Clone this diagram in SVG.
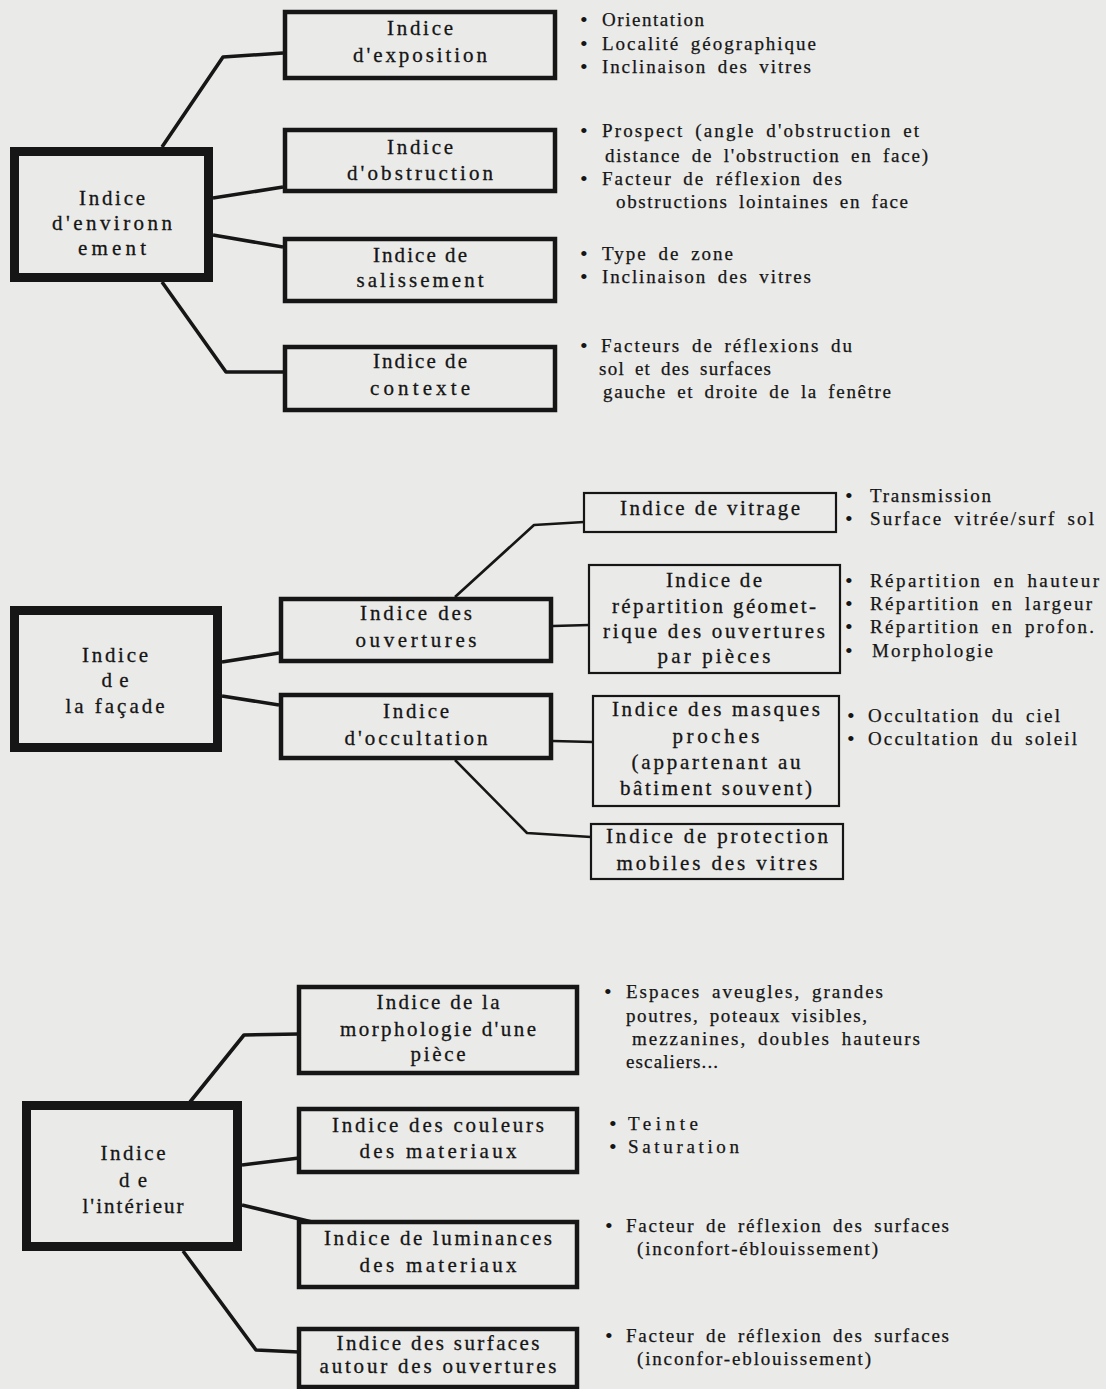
<svg xmlns="http://www.w3.org/2000/svg" width="1106" height="1389" viewBox="0 0 1106 1389">
<style>
.bg{fill:#eaeae8}
.b1{fill:none;stroke:#161616;stroke-width:9}
.b2{fill:none;stroke:#161616;stroke-width:4.5}
.b3{fill:none;stroke:#161616;stroke-width:2.2}
.c1{fill:none;stroke:#161616;stroke-width:3.6;stroke-linejoin:round}
.c2{fill:none;stroke:#161616;stroke-width:2.6;stroke-linejoin:round}
.t{font-family:"Liberation Serif","Times New Roman",serif;font-size:21px;fill:#151515;stroke:#151515;stroke-width:0.3;text-anchor:middle}
.l{font-family:"Liberation Serif","Times New Roman",serif;font-size:19px;fill:#151515;stroke:#151515;stroke-width:0.25;word-spacing:4px}
.d{font-family:"Liberation Serif","Times New Roman",serif;font-size:22px;fill:#151515}
</style>
<rect class="bg" x="0" y="0" width="1106" height="1389"/>

<g id="connectors">
<path class="c1" d="M162,147 L223,57 L283,53"/>
<path class="c1" d="M213,198 L283,187"/>
<path class="c1" d="M213,235 L283,247"/>
<path class="c1" d="M162,282 L226,372 L283,372"/>
<path class="c1" d="M222,662 L279,653"/>
<path class="c1" d="M222,696 L279,705"/>
<path class="c2" d="M455,597 L534,525 L584,522"/>
<path class="c2" d="M553,626 L589,625"/>
<path class="c2" d="M553,741 L593,742"/>
<path class="c2" d="M455,760 L527,833 L591,837"/>
<path class="c1" d="M190,1102 L244,1035 L299,1034"/>
<path class="c1" d="M242,1165 L299,1158"/>
<path class="c1" d="M242,1205 L312,1222"/>
<path class="c1" d="M183,1251 L256,1350 L299,1352"/>
</g>

<g id="env">
<rect class="b1" x="14.5" y="151.5" width="194" height="126"/>
<text class="t" x="112" y="205" textLength="66">Indice</text>
<text class="t" x="112" y="230" textLength="120">d'environn</text>
<text class="t" x="112" y="255" textLength="68">ement</text>
</g>

<g id="exposition">
<rect class="b2" x="285" y="12" width="270" height="66"/>
<text class="t" x="420" y="35" textLength="66">Indice</text>
<text class="t" x="420" y="62" textLength="134">d'exposition</text>
<text class="d" x="580" y="27">•</text><text class="l" x="602" y="26" textLength="102">Orientation</text>
<text class="d" x="580" y="51">•</text><text class="l" x="602" y="50" textLength="214">Localité géographique</text>
<text class="d" x="580" y="74">•</text><text class="l" x="602" y="73" textLength="209">Inclinaison des vitres</text>
</g>

<g id="obstruction">
<rect class="b2" x="285" y="130" width="270" height="61"/>
<text class="t" x="420" y="154" textLength="66">Indice</text>
<text class="t" x="420" y="180" textLength="146">d'obstruction</text>
<text class="d" x="580" y="138">•</text><text class="l" x="602" y="137" textLength="317">Prospect (angle d'obstruction et</text>
<text class="l" x="605" y="162" textLength="323">distance de l'obstruction en face)</text>
<text class="d" x="580" y="186">•</text><text class="l" x="602" y="185" textLength="240">Facteur de réflexion des</text>
<text class="l" x="616" y="208" textLength="292">obstructions lointaines en face</text>
</g>

<g id="salissement">
<rect class="b2" x="285" y="239" width="270" height="62"/>
<text class="t" x="420" y="262" textLength="94">Indice de</text>
<text class="t" x="420" y="287" textLength="127">salissement</text>
<text class="d" x="580" y="261">•</text><text class="l" x="602" y="260" textLength="131">Type de zone</text>
<text class="d" x="580" y="284">•</text><text class="l" x="602" y="283" textLength="209">Inclinaison des vitres</text>
</g>

<g id="contexte">
<rect class="b2" x="285" y="347" width="270" height="63"/>
<text class="t" x="420" y="368" textLength="94">Indice de</text>
<text class="t" x="420" y="395" textLength="100">contexte</text>
<text class="d" x="580" y="353">•</text><text class="l" x="601" y="352" textLength="251">Facteurs de réflexions du</text>
<text class="l" x="599" y="375" textLength="172">sol et des surfaces</text>
<text class="l" x="603" y="398" textLength="288">gauche et droite de la fenêtre</text>
</g>

<g id="facade">
<rect class="b1" x="14.5" y="610.5" width="203" height="137"/>
<text class="t" x="115" y="662" textLength="66">Indice</text>
<text class="t" x="115" y="687" textLength="27">de</text>
<text class="t" x="115" y="713" textLength="99">la façade</text>
</g>

<g id="ouvertures">
<rect class="b2" x="281" y="599" width="270" height="62"/>
<text class="t" x="416" y="620" textLength="112">Indice des</text>
<text class="t" x="416" y="647" textLength="121">ouvertures</text>
</g>

<g id="occultation">
<rect class="b2" x="281" y="695" width="270" height="63"/>
<text class="t" x="416" y="718" textLength="66">Indice</text>
<text class="t" x="416" y="745" textLength="143">d'occultation</text>
</g>

<g id="vitrage">
<rect class="b3" x="584" y="493" width="252" height="39"/>
<text class="t" x="710" y="515" textLength="180">Indice de vitrage</text>
<text class="d" x="845" y="503">•</text><text class="l" x="870" y="502" textLength="121">Transmission</text>
<text class="d" x="845" y="526">•</text><text class="l" x="870" y="525" textLength="224">Surface vitrée/surf sol</text>
</g>

<g id="repartition">
<rect class="b3" x="589" y="565" width="251" height="108"/>
<text class="t" x="714" y="587" textLength="96">Indice de</text>
<text class="t" x="714" y="613" textLength="204">répartition géomet-</text>
<text class="t" x="714" y="638" textLength="222">rique des ouvertures</text>
<text class="t" x="714" y="663" textLength="113">par pièces</text>
<text class="d" x="845" y="588">•</text><text class="l" x="870" y="587" textLength="229">Répartition en hauteur</text>
<text class="d" x="845" y="611">•</text><text class="l" x="870" y="610" textLength="222">Répartition en largeur</text>
<text class="d" x="845" y="634">•</text><text class="l" x="870" y="633" textLength="224">Répartition en profon.</text>
<text class="d" x="845" y="658">•</text><text class="l" x="872" y="657" textLength="121">Morphologie</text>
</g>

<g id="masques">
<rect class="b3" x="593" y="696" width="246" height="110"/>
<text class="t" x="716" y="716" textLength="208">Indice des masques</text>
<text class="t" x="716" y="743" textLength="87">proches</text>
<text class="t" x="716" y="769" textLength="169">(appartenant au</text>
<text class="t" x="716" y="795" textLength="192">bâtiment souvent)</text>
<text class="d" x="847" y="723">•</text><text class="l" x="868" y="722" textLength="192">Occultation du ciel</text>
<text class="d" x="847" y="746">•</text><text class="l" x="868" y="745" textLength="209">Occultation du soleil</text>
</g>

<g id="protection">
<rect class="b3" x="591" y="824" width="252" height="55"/>
<text class="t" x="717" y="843" textLength="222">Indice de protection</text>
<text class="t" x="717" y="870" textLength="201">mobiles des vitres</text>
</g>

<g id="interieur">
<rect class="b1" x="26.5" y="1105.5" width="211" height="141"/>
<text class="t" x="133" y="1160" textLength="65">Indice</text>
<text class="t" x="133" y="1187" textLength="28">de</text>
<text class="t" x="133" y="1213" textLength="101">l'intérieur</text>
</g>

<g id="morphologie">
<rect class="b2" x="299" y="987" width="278" height="86"/>
<text class="t" x="438" y="1009" textLength="123">Indice de la</text>
<text class="t" x="438" y="1036" textLength="196">morphologie d'une</text>
<text class="t" x="438" y="1061" textLength="55">pièce</text>
<text class="d" x="604" y="999">•</text><text class="l" x="626" y="998" textLength="257">Espaces aveugles, grandes</text>
<text class="l" x="626" y="1022" textLength="241">poutres, poteaux visibles,</text>
<text class="l" x="632" y="1045" textLength="288">mezzanines, doubles hauteurs</text>
<text class="l" x="626" y="1068" textLength="92">escaliers...</text>
</g>

<g id="couleurs">
<rect class="b2" x="299" y="1109" width="278" height="63"/>
<text class="t" x="438" y="1132" textLength="212">Indice des couleurs</text>
<text class="t" x="438" y="1158" textLength="157">des materiaux</text>
<text class="d" x="609" y="1131">•</text><text class="l" x="628" y="1130" textLength="70">Teinte</text>
<text class="d" x="609" y="1154">•</text><text class="l" x="628" y="1153" textLength="111">Saturation</text>
</g>

<g id="luminances">
<rect class="b2" x="299" y="1222" width="278" height="65"/>
<text class="t" x="438" y="1245" textLength="228">Indice de luminances</text>
<text class="t" x="438" y="1272" textLength="157">des materiaux</text>
<text class="d" x="605" y="1233">•</text><text class="l" x="626" y="1232" textLength="323">Facteur de réflexion des surfaces</text>
<text class="l" x="637" y="1255" textLength="241">(inconfort-éblouissement)</text>
</g>

<g id="surfaces">
<rect class="b2" x="299" y="1329" width="278" height="58"/>
<text class="t" x="438" y="1350" textLength="203">Indice des surfaces</text>
<text class="t" x="438" y="1373" textLength="237">autour des ouvertures</text>
<text class="d" x="605" y="1343">•</text><text class="l" x="626" y="1342" textLength="323">Facteur de réflexion des surfaces</text>
<text class="l" x="637" y="1365" textLength="234">(inconfor-eblouissement)</text>
</g>
</svg>
